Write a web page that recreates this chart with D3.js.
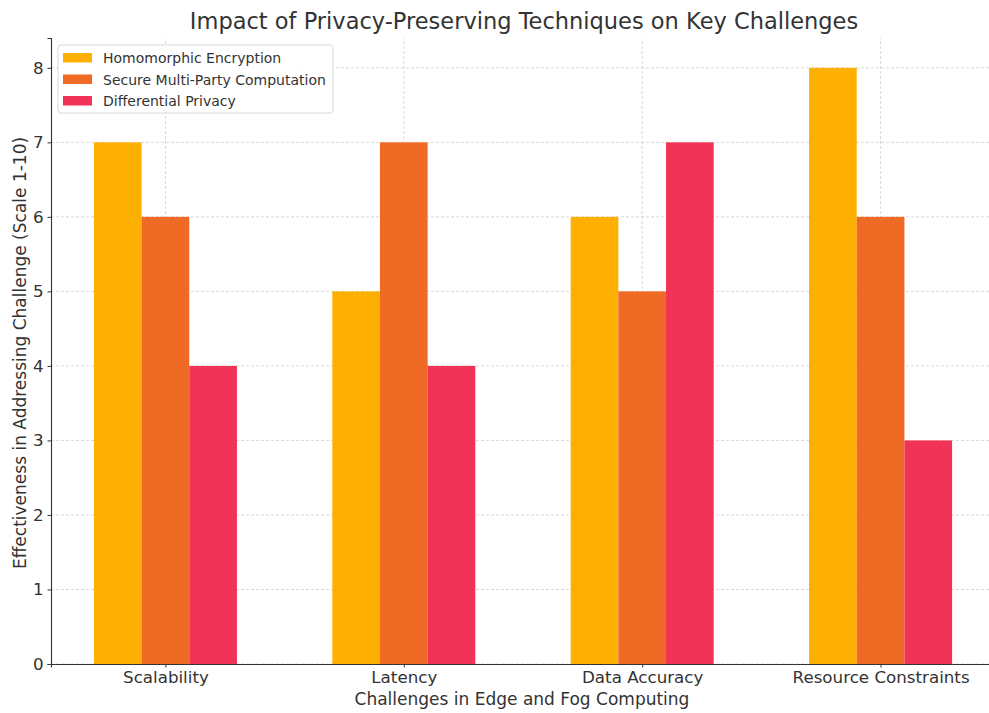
<!DOCTYPE html>
<html>
<head>
<meta charset="utf-8">
<script src="https://cdn.jsdelivr.net/npm/d3@7"></script>
<style>
  html, body { margin: 0; padding: 0; background: #fff; }
  svg { display: block; font-family: "DejaVu Sans", sans-serif; }
</style>
</head>
<body>
<svg id="chart" width="989" height="713"></svg>
<script>
// Challenges on the x axis
const categories = ["Scalability", "Latency", "Data Accuracy", "Resource Constraints"];
// Technique names (legend order)
const techniques = ["Homomorphic Encryption", "Secure Multi-Party Computation", "Differential Privacy"];
// Effectiveness scores per technique, one value per challenge
const homomorphic = [7, 5, 6, 8];
const secureMpc = [6, 7, 5, 6];
const differential = [4, 4, 7, 3];
const yTicks = [0, 1, 2, 3, 4, 5, 6, 7, 8];
const colors = ["#fdb002", "#ef6a24", "#f13357"];

const seriesValues = [homomorphic, secureMpc, differential];

const FONT = "DejaVu Sans, sans-serif";
const svg = d3.select("#chart");
const margin = { left: 51, right: -6, top: 38, bottom: 49 };
const W = 989, H = 713;
const barW = 0.2;

const x = d3.scaleLinear()
  .domain([-0.48, categories.length - 1 + 0.48])
  .range([margin.left, W - margin.right]);
const y = d3.scaleLinear()
  .domain([0, 8.4])
  .range([H - margin.bottom, margin.top]);

// Grid lines
const grid = svg.append("g");
grid.selectAll("line.h").data(yTicks).enter().append("line")
  .attr("x1", margin.left).attr("x2", W)
  .attr("y1", d => y(d)).attr("y2", d => y(d))
  .attr("stroke", "#cfcfcf").attr("stroke-width", 0.8).attr("stroke-dasharray", "3,2");
grid.selectAll("line.v").data(categories).enter().append("line")
  .attr("x1", (d, i) => x(i)).attr("x2", (d, i) => x(i))
  .attr("y1", y(0)).attr("y2", margin.top)
  .attr("stroke", "#cfcfcf").attr("stroke-width", 0.8).attr("stroke-dasharray", "3,2");

// Bars
seriesValues.forEach((vals, s) => {
  svg.append("g").selectAll("rect").data(vals).enter().append("rect")
    .attr("x", (d, i) => x(i + (s - 1) * barW - barW / 2))
    .attr("width", x(barW) - x(0))
    .attr("y", d => y(d))
    .attr("height", d => y(0) - y(d))
    .attr("fill", colors[s]);
});

// Axes
const xAxis = d3.axisBottom(x)
  .tickValues(d3.range(categories.length))
  .tickFormat(i => categories[i])
  .tickSize(3.5).tickPadding(4);
const gx = svg.append("g").attr("transform", `translate(0,${y(0)})`).call(xAxis)
  .attr("font-family", FONT);
gx.select(".domain").attr("stroke", "#333").attr("stroke-width", 1.1);
gx.selectAll(".tick line").attr("stroke", "#333");
gx.selectAll("text").attr("fill", "#333").style("font-size", "16.7px");

const yAxis = d3.axisLeft(y).tickValues(yTicks).tickFormat(d3.format("d")).tickSize(3.5).tickPadding(4);
const gy = svg.append("g").attr("transform", `translate(${margin.left},0)`).call(yAxis)
  .attr("font-family", FONT);
gy.select(".domain").attr("stroke", "#333").attr("stroke-width", 1.1);
gy.selectAll(".tick line").attr("stroke", "#333");
gy.selectAll("text").attr("fill", "#333").style("font-size", "16.7px");

// Titles
svg.append("text").attr("x", 524).attr("y", 29).attr("text-anchor", "middle")
  .attr("fill", "#333").style("font-size", "22.5px")
  .text("Impact of Privacy-Preserving Techniques on Key Challenges");
svg.append("text").attr("x", 522).attr("y", 705).attr("text-anchor", "middle")
  .attr("fill", "#333").style("font-size", "17px")
  .text("Challenges in Edge and Fog Computing");
svg.append("text").attr("transform", "translate(26,353) rotate(-90)")
  .attr("text-anchor", "middle").attr("fill", "#333").style("font-size", "17px")
  .text("Effectiveness in Addressing Challenge (Scale 1-10)");

// Legend
const lg = svg.append("g").attr("transform", "translate(58,45)");
lg.append("rect").attr("width", 275).attr("height", 68).attr("rx", 3)
  .attr("fill", "rgba(255,255,255,0.85)").attr("stroke", "#d8d8d8");
techniques.forEach((t, i) => {
  lg.append("rect").attr("x", 5).attr("y", 8 + i * 21.5).attr("width", 29).attr("height", 9.5)
    .attr("fill", colors[i]);
  lg.append("text").attr("x", 45).attr("y", 18 + i * 21.5)
    .attr("fill", "#333").style("font-size", "14px").text(t);
});
</script>
</body>
</html>
